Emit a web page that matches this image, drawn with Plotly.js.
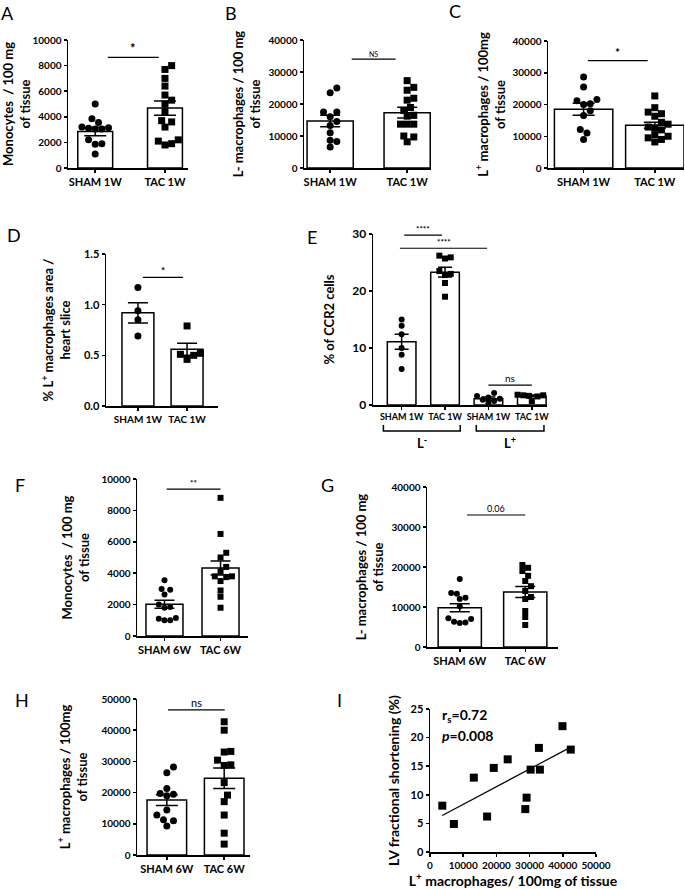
<!DOCTYPE html>
<html><head><meta charset="utf-8">
<script src="https://cdn.plot.ly/plotly-3.0.1.min.js"></script>
<style>html,body{margin:0;padding:0;background:#fff}#chart{width:685px;height:889px}</style>
</head><body><div id="chart"></div>
<script>
// ---------------- DATA ----------------
const cat1W = ['SHAM 1W', 'TAC 1W'];
const cat6W = ['SHAM 6W', 'TAC 6W'];
const catE = ['SHAM 1W', 'TAC 1W', 'SHAM 1W', 'TAC 1W'];

const A_sham = [5000, 3850, 3550, 3100, 3050, 3050, 3150, 3200, 2200, 1900, 1850, 1100];
const A_tac  = [8000, 7700, 7000, 6400, 5700, 5300, 5000, 4400, 3700, 3600, 3200, 2200, 2100, 1900, 1800];
const A_mean = [2850, 4680];
const A_sem  = [330, 550];

const B_sham = [25000, 23500, 17500, 17500, 16000, 14500, 13300, 11000, 8700, 8300, 6600];
const B_tac  = [27300, 25200, 24300, 21800, 21200, 18900, 18000, 16500, 16200, 13700, 13700, 13700, 10000, 9700, 8200];
const B_mean = [14700, 17300];
const B_sem  = [1800, 1700];

const C_sham = [28700, 25500, 21600, 21200, 20200, 20000, 18000, 16500, 12100, 11000, 9000];
const C_tac  = [22700, 19000, 17600, 17100, 16300, 14400, 13800, 12900, 12600, 12000, 10500, 10000, 9500, 9000, 8200];
const C_mean = [18500, 13450];
const C_sem  = [1900, 950];

const D_sham = [1.17, 0.94, 0.85, 0.69];
const D_tac  = [0.79, 0.52, 0.51, 0.50, 0.46];
const D_mean = [0.92, 0.56];
const D_sem  = [0.10, 0.06];

const E_shamLm = [15.0, 13.9, 12.4, 10.0, 8.8, 6.3];
const E_tacLm  = [26.2, 25.9, 25.7, 23.5, 23.0, 22.8, 21.4, 19.0];
const E_shamLp = [2.1, 1.6, 1.3, 1.1, 0.9, 0.7, 0.3];
const E_tacLp  = [1.9, 1.8, 1.7, 1.7, 1.6, 1.5, 0.7];
const E_mean = [11.1, 23.3, 1.1, 1.6];
const E_sem  = [1.3, 0.85, 0.3, 0.15];

const F_sham = [3550, 3000, 2950, 2650, 2000, 1800, 1850, 1100, 1000, 1000, 1150];
const F_tac  = [8800, 6500, 5300, 5000, 4400, 4100, 3800, 3750, 3800, 3500, 2900, 2500, 1800];
const F_mean = [2020, 4330];
const F_sem  = [260, 450];

const G_sham = [17000, 13500, 13300, 12300, 12000, 10200, 7200, 6300, 6000, 6100, 7000];
const G_tac  = [20500, 19800, 19000, 17800, 16500, 15200, 14000, 12500, 12000, 9000, 7500, 5500];
const G_mean = [9830, 13750];
const G_sem  = [1000, 1400];

const H_sham = [28200, 26400, 21300, 19700, 19500, 19000, 14400, 12800, 11300, 11000, 9300];
const H_tac  = [42700, 40000, 33000, 33200, 30400, 28900, 28700, 23200, 19200, 17100, 12800, 7000, 3500];
const H_mean = [17600, 24600];
const H_sem  = [1750, 3300];

const I_x = [3700, 7200, 13200, 17200, 19200, 23400, 28700, 29100, 30300, 33100, 32800, 39900, 42400];
const I_y = [8.1, 4.9, 13.0, 6.2, 14.7, 16.2, 7.5, 9.5, 14.4, 14.4, 18.2, 22.0, 17.9];
const I_stats = ['r<sub>s</sub>=0.72', '<i>p</i>=0.008'];

// ---------------- LAYOUT CONFIG ----------------
const PW = 685, PH = 889;
const FONT = 'Lato, "Open Sans", "DejaVu Sans", sans-serif';
const CO = ['circle', 'square'];

const panels = [
 {L:'A', cats:cat1W, groups:[A_sham, A_tac], mean:A_mean, sem:A_sem, sym:CO,
  title:'Monocytes  / 100 mg<br>of tissue', box:[68,188,40,168], xr:[-0.39,1.33], ymax:10000, dtick:2000,
  bw:0.5, ms:7, cap:11, xfs:11, yfs:10, tfs:13, stand:4, lp:[8,13],
  sig:[{x0:0.18, x1:0.91, y:8650, t:'*', fs:13, w:700}]},
 {L:'B', cats:cat1W, groups:[B_sham, B_tac], mean:B_mean, sem:B_sem, sym:CO,
  title:'L- macrophages / 100 mg<br>of tissue', box:[304,431,40,168], xr:[-0.34,1.31], ymax:40000, dtick:10000,
  bw:0.6, ms:7, cap:10, xfs:11, yfs:10, tfs:13, stand:5, lp:[231,13],
  sig:[{x0:0.28, x1:0.85, y:34000, t:'NS', fs:7, w:400}]},
 {L:'C', cats:cat1W, groups:[C_sham, C_tac], mean:C_mean, sem:C_sem, sym:CO,
  title:'L<sup>+</sup> macrophages / 100mg<br>of tissue', box:[548,684,41,168], xr:[-0.5,1.41], ymax:40000, dtick:10000,
  bw:0.82, ms:7, cap:11, xfs:11, yfs:10, tfs:13, stand:4, lp:[455,11],
  sig:[{x0:0.06, x1:0.9, y:33800, t:'*', fs:12, w:700}]},
 {L:'D', cats:cat1W, groups:[D_sham, D_tac], mean:D_mean, sem:D_sem, sym:CO,
  title:'% L<sup>+</sup> macrophages area /<br>heart slice', box:[106,218,254,406], xr:[-0.65,1.63], ymax:1.5, dtick:0.5, fmt:'.1f',
  bw:0.65, ms:7, cap:10, xfs:10, yfs:11, tfs:13, stand:10, lp:[14,235],
  sig:[{x0:0.10, x1:0.92, y:1.27, t:'*', fs:10, w:700}]},
 {L:'E', cats:catE, groups:[E_shamLm, E_tacLm, E_shamLp, E_tacLp], mean:E_mean, sem:E_sem, sym:['circle','square','circle','square'],
  title:'% of CCR2 cells', box:[373,547,234,405], xr:[-0.66,3.35], ymax:30, dtick:10,
  bw:0.66, ms:6, cap:7, xfs:9, yfs:12, tfs:13, stand:14, lp:[312,237],
  sig:[{x0:0.06, x1:0.93, y:29.8, t:'****', fs:8, w:700},
       {x0:-0.04, x1:1.97, y:27.5, t:'****', fs:8, w:700},
       {x0:2.0, x1:3.0, y:3.5, t:'ns', fs:10, w:400}]},
 {L:'F', cats:cat6W, groups:[F_sham, F_tac], mean:F_mean, sem:F_sem, sym:CO,
  title:'Monocytes  / 100 mg<br>of tissue', box:[137,248,479,636], xr:[-0.49,1.49], ymax:10000, dtick:2000,
  bw:0.66, ms:6, cap:10, xfs:11, yfs:10, tfs:13, stand:9, lp:[20,485],
  sig:[{x0:0.04, x1:1.0, y:9350, t:'**', fs:8, w:700}]},
 {L:'G', cats:cat6W, groups:[G_sham, G_tac], mean:G_mean, sem:G_sem, sym:CO,
  title:'L- macrophages / 100 mg<br>of tissue', box:[427,558,487,647], xr:[-0.5,1.5], ymax:40000, dtick:10000,
  bw:0.66, ms:6, cap:10, xfs:11, yfs:10, tfs:13, stand:5, lp:[327,485],
  sig:[{x0:0.11, x1:1.0, y:33000, t:'0.06', fs:9, w:400}]},
 {L:'H', cats:cat6W, groups:[H_sham, H_tac], mean:H_mean, sem:H_sem, sym:CO,
  title:'L<sup>+</sup> macrophages / 100mg<br>of tissue', box:[137,250,699,855], xr:[-0.52,1.45], ymax:50000, dtick:10000,
  bw:0.69, ms:7, cap:11, xfs:11, yfs:10, tfs:13, stand:11, lp:[22,700],
  sig:[{x0:0.02, x1:1.01, y:46500, t:'ns', fs:11, w:400}]}
];

// ---------------- HELPERS ----------------
// simple beeswarm: horizontal offsets (px) so that markers barely overlap
function swarm(vals, pxPerY, d) {
  const order = vals.map((v, i) => i).sort((a, b) => vals[a] - vals[b]);
  const placed = [];
  const off = new Array(vals.length).fill(0);
  const step = d * 0.5;
  for (const i of order) {
    const py = vals[i] * pxPerY;
    for (let k = 0; k < 60; k++) {
      const c = k === 0 ? 0 : (k % 2 ? 1 : -1) * Math.ceil(k / 2) * step;
      if (placed.every(p => Math.hypot(p[0] - c, p[1] - py) >= d)) {
        off[i] = c; placed.push([c, py]); break;
      }
    }
  }
  return off;
}
const axBase = {showline:true, linecolor:'#000', linewidth:1.5, ticks:'outside', ticklen:3, tickwidth:1.5,
  tickcolor:'#000', showgrid:false, zeroline:false, fixedrange:true};

const traces = [], shapes = [], annotations = [];
const layout = {width:PW, height:PH, margin:{l:0, r:0, t:0, b:0}, paper_bgcolor:'#fff',
  plot_bgcolor:'rgba(0,0,0,0)', showlegend:false, hovermode:false,
  font:{family:FONT, color:'#000', size:12}};

// paper-referenced text at pixel position
function pAnn(text, px, py, size, weight, opts) {
  annotations.push(Object.assign({xref:'paper', yref:'paper', x:px / PW, y:1 - py / PH, xanchor:'center', yanchor:'middle',
    showarrow:false, text:text, font:{family:FONT, size:size, weight:weight || 400}}, opts || {}));
}

panels.forEach((p, k) => {
  const n = k + 1, s = n === 1 ? '' : String(n);
  const xa = 'x' + s, ya = 'y' + s;
  const [x0, x1, y0, y1] = p.box;
  const pxX = (x1 - x0) / (p.xr[1] - p.xr[0]);
  const pxY = (y1 - y0) / p.ymax;
  const toPx = (xv, yv) => [x0 + (xv - p.xr[0]) * pxX, y1 - yv * pxY];
  const idx = p.cats.map((c, i) => i);
  layout['xaxis' + s] = Object.assign({}, axBase, {domain:[x0 / PW, x1 / PW], range:p.xr, anchor:ya,
    tickvals:idx, ticktext:p.cats, tickangle:0, tickfont:{family:FONT, size:p.xfs, weight:700}});
  layout['yaxis' + s] = Object.assign({}, axBase, {domain:[1 - y1 / PH, 1 - y0 / PH], range:[0, p.ymax], anchor:xa,
    tick0:0, dtick:p.dtick, tickformat:p.fmt || 'd', tickfont:{family:FONT, size:p.yfs, weight:700},
    title:{text:p.title, font:{family:FONT, size:p.tfs, weight:700}, standoff:p.stand}});
  traces.push({type:'bar', x:idx, y:p.mean, width:p.bw, xaxis:xa, yaxis:ya,
    marker:{color:'#fff', line:{color:'#000', width:1.5}},
    error_y:{type:'data', array:p.sem, visible:true, color:'#000', thickness:1.5, width:p.cap}});
  p.groups.forEach((g, gi) => {
    const off = swarm(g, pxY, p.ms * 0.95);
    traces.push({type:'scatter', mode:'markers', x:g.map((v, i) => gi + off[i] / pxX), y:g,
      xaxis:xa, yaxis:ya, cliponaxis:false, marker:{symbol:p.sym[gi], size:p.ms, color:'#000'}});
  });
  p.sig.forEach(g => {
    shapes.push({type:'line', xref:xa, yref:ya, x0:g.x0, x1:g.x1, y0:g.y, y1:g.y, line:{color:'#000', width:1.2}});
    const [px, py] = toPx((g.x0 + g.x1) / 2, g.y);
    pAnn(g.t, px, py + 1, g.fs, g.w, {yanchor:'bottom'});
  });
  pAnn(p.L, p.lp[0], p.lp[1], 18);
});

// E brackets under categories
{
  const p = panels[4];
  const pxX = (p.box[1] - p.box[0]) / (p.xr[1] - p.xr[0]);
  const br = [{a:-0.42, b:1.35, t:'L<sup>-</sup>'}, {a:1.72, b:3.28, t:'L<sup>+</sup>'}];
  br.forEach(o => {
    const yt = 1 - 425 / PH, yb = 1 - 431 / PH;
    shapes.push({type:'path', xref:'x5', yref:'paper', path:`M${o.a},${yt} L${o.a},${yb} L${o.b},${yb} L${o.b},${yt}`,
      line:{color:'#000', width:1.5}});
    pAnn(o.t, p.box[0] + ((o.a + o.b) / 2 - p.xr[0]) * pxX, 442, 13, 700);
  });
}

// Panel I
{
  const xa = 'x9', ya = 'y9';
  const bx = [430, 596, 709, 852], xr = [0, 50000], yr = [0, 25];
  layout.xaxis9 = Object.assign({}, axBase, {domain:[bx[0] / PW, bx[1] / PW], range:xr, anchor:ya,
    tick0:0, dtick:10000, tickformat:'d', tickangle:0, tickfont:{family:FONT, size:10, weight:700},
    title:{text:'L<sup>+</sup> macrophages/ 100mg of tissue', font:{family:FONT, size:14, weight:700}, standoff:4}});
  layout.yaxis9 = Object.assign({}, axBase, {domain:[1 - bx[3] / PH, 1 - bx[2] / PH], range:yr, anchor:xa,
    tick0:0, dtick:5, tickformat:'d', tickfont:{family:FONT, size:11, weight:700},
    title:{text:'LV fractional shortening (%)', font:{family:FONT, size:14, weight:700}, standoff:7}});
  traces.push({type:'scatter', mode:'markers', x:I_x, y:I_y, xaxis:xa, yaxis:ya, cliponaxis:false,
    marker:{symbol:'square', size:8, color:'#000'}});
  const n = I_x.length;
  const mx = I_x.reduce((a, b) => a + b, 0) / n, my = I_y.reduce((a, b) => a + b, 0) / n;
  let sxy = 0, sxx = 0;
  for (let i = 0; i < n; i++) { sxy += (I_x[i] - mx) * (I_y[i] - my); sxx += (I_x[i] - mx) ** 2; }
  const slope = sxy / sxx, icpt = my - slope * mx;
  const lx = [Math.min(...I_x), Math.max(...I_x)];
  traces.push({type:'scatter', mode:'lines', x:lx, y:lx.map(v => icpt + slope * v), xaxis:xa, yaxis:ya,
    line:{color:'#000', width:1.2}});
  const sx = bx[0] + 3000 / xr[1] * (bx[1] - bx[0]);
  const sy = v => bx[3] - v / yr[1] * (bx[3] - bx[2]);
  pAnn(I_stats[0], sx, sy(23.8), 14, 700, {xanchor:'left'});
  pAnn(I_stats[1], sx, sy(20.4), 14, 700, {xanchor:'left'});
  pAnn('I', 339, 700, 18);
}

layout.shapes = shapes;
layout.annotations = annotations;
Plotly.newPlot('chart', traces, layout, {staticPlot:true, displayModeBar:false});
</script></body></html>
